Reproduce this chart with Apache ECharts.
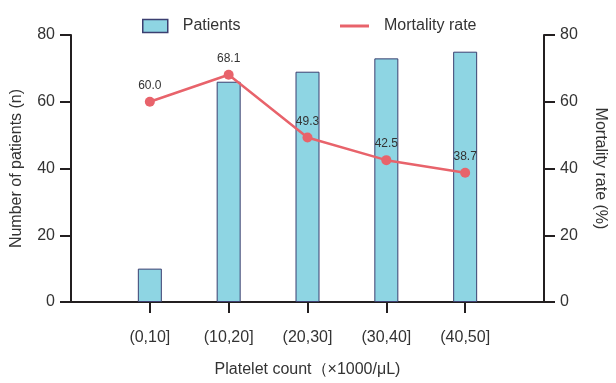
<!DOCTYPE html>
<html>
<head>
<meta charset="utf-8">
<script src="https://cdn.jsdelivr.net/npm/echarts@6/dist/echarts.min.js"></script>
<style>
  html, body { margin: 0; padding: 0; background: #fff; }
  #chart { width: 616px; height: 383px; }
</style>
</head>
<body>
<div id="chart"></div>
<script>
// Platelet count bins; blank entries pad the axis on both sides
const categories = ['', '(0,10]', '(10,20]', '(20,30]', '(30,40]', '(40,50]', ''];
const patients = [null, 10, 66, 69, 73, 75, null];
const mortality = [null, 60.0, 68.1, 49.3, 42.5, 38.7, null];
const yTicks = { min: 0, max: 80, interval: 20 };

const FONT = '"Liberation Sans", Arial, Helvetica, sans-serif';
const INK = '#231f20';
const TEXT = '#333333';

const axisLine = { show: true, lineStyle: { color: INK, width: 2 } };
const axisTick = { show: true, inside: false, length: 11, lineStyle: { color: INK, width: 2 } };

const chart = echarts.init(document.getElementById('chart'), null, { renderer: 'canvas' });

chart.setOption({
  animation: false,
  backgroundColor: '#ffffff',
  textStyle: { fontFamily: FONT },
  grid: { left: 71, right: 65, top: 35, bottom: 74, containLabel: false },
  legend: [
    {
      data: [{ name: 'Patients', icon: 'rect' }],
      left: 137, top: 13,
      itemWidth: 25, itemHeight: 13,
      itemStyle: { borderWidth: 1.5, borderColor: '#3b3f70' },
      textStyle: { fontSize: 16, color: TEXT, fontFamily: FONT, padding: [0, 0, 0, 10] }
    },
    {
      data: [{ name: 'Mortality rate', icon: 'rect' }],
      left: 335, top: 13,
      itemWidth: 29, itemHeight: 3,
      textStyle: { fontSize: 16, color: TEXT, fontFamily: FONT, padding: [0, 0, 0, 10] }
    }
  ],
  xAxis: {
    type: 'category',
    data: categories,
    boundaryGap: false,
    name: 'Platelet count（×1000/μL)',
    nameLocation: 'middle',
    nameGap: 60,
    nameTextStyle: { fontSize: 16, color: TEXT, fontFamily: FONT },
    axisLine: axisLine,
    axisTick: Object.assign({}, axisTick, {
      interval: (idx) => idx > 0 && idx < categories.length - 1
    }),
    axisLabel: { fontSize: 16, color: TEXT, margin: 28, interval: 0 },
    splitLine: { show: false }
  },
  yAxis: [
    {
      type: 'value',
      min: yTicks.min, max: yTicks.max, interval: yTicks.interval,
      name: 'Number of patients (n)',
      nameLocation: 'middle',
      nameGap: 46,
      nameTextStyle: { fontSize: 16, color: TEXT, fontFamily: FONT },
      axisLine: axisLine,
      axisTick: axisTick,
      axisLabel: { fontSize: 16, color: TEXT, margin: 16 },
      splitLine: { show: false }
    },
    {
      type: 'value',
      position: 'right',
      min: yTicks.min, max: yTicks.max, interval: yTicks.interval,
      name: 'Mortality rate (%)',
      nameLocation: 'middle',
      nameGap: 48,
      nameRotate: -90,
      nameTextStyle: { fontSize: 16, color: TEXT, fontFamily: FONT },
      axisLine: axisLine,
      axisTick: axisTick,
      axisLabel: { fontSize: 16, color: TEXT, margin: 16 },
      splitLine: { show: false }
    }
  ],
  series: [
    {
      name: 'Patients',
      type: 'bar',
      yAxisIndex: 0,
      data: patients,
      barWidth: 24,
      itemStyle: { color: '#8ED5E3', borderColor: '#3b3f70', borderWidth: 1 }
    },
    {
      name: 'Mortality rate',
      type: 'line',
      yAxisIndex: 1,
      data: mortality,
      connectNulls: false,
      symbol: 'circle',
      symbolSize: 10,
      lineStyle: { color: '#E8636B', width: 2.5 },
      itemStyle: { color: '#E8636B' },
      label: {
        show: true,
        position: 'top',
        distance: 5,
        fontSize: 12,
        color: TEXT,
        formatter: (p) => p.value == null ? '' : Number(p.value).toFixed(1)
      },
      z: 3
    }
  ]
});
</script>
</body>
</html>
